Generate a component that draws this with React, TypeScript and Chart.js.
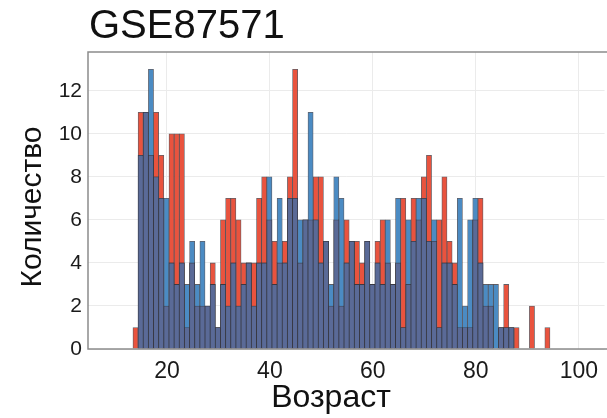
import React, { useEffect, useRef } from "react";
import { Chart, registerables } from "chart.js";

Chart.register(...registerables);

// Histogram bins: one-year bins whose left edges sit at age + binOffset
const ageBins = [
  13, 14, 15, 16, 17, 18, 19, 20, 21, 22, 23, 24, 25, 26, 27, 28, 29, 30, 31, 32,
  33, 34, 35, 36, 37, 38, 39, 40, 41, 42, 43, 44, 45, 46, 47, 48, 49, 50, 51, 52,
  53, 54, 55, 56, 57, 58, 59, 60, 61, 62, 63, 64, 65, 66, 67, 68, 69, 70, 71, 72,
  73, 74, 75, 76, 77, 78, 79, 80, 81, 82, 83, 84, 85, 86, 87, 88, 89, 90, 91, 92, 93,
];
const binOffset = 0.4;
const binWidth = 1;

// Counts per bin, first group (red)
const countsRed = [
  1, 11, 11, 9, 11, 9, 2, 10, 10, 10, 1, 4, 2, 2, 2, 4, 1, 6, 7, 7,
  6, 4, 4, 4, 7, 8, 6, 5, 4, 5, 8, 13, 4, 6, 6, 8, 8, 5, 2, 6,
  2, 6, 5, 5, 4, 5, 3, 5, 6, 4, 3, 4, 7, 3, 7, 6, 8, 9, 5, 6,
  8, 5, 4, 1, 1, 1, 6, 7, 2, 2, 0, 1, 3, 1, 1, 0, 0, 2, 0, 0, 1,
];

// Counts per bin, second group (blue)
const countsBlue = [
  0, 9, 11, 13, 8, 7, 7, 4, 3, 4, 3, 5, 3, 5, 2, 3, 1, 3, 2, 4,
  2, 3, 4, 2, 4, 4, 8, 3, 7, 4, 7, 7, 6, 6, 11, 6, 4, 5, 3, 8,
  7, 4, 5, 3, 3, 5, 3, 4, 3, 6, 3, 7, 1, 6, 5, 7, 7, 5, 6, 1,
  4, 4, 3, 7, 2, 6, 7, 4, 3, 3, 3, 1, 1, 1, 0, 0, 0, 0, 0, 0, 0,
];

const xTickValues = [20, 40, 60, 80, 100];
const yTickValues = [0, 2, 4, 6, 8, 10, 12];
const xRange = [4.67, 105.0];
const yRange = [0, 13.8];

const titleText = "GSE87571";
const xTitleText = "Возраст";
const yTitleText = "Количество";

const FONT = "'Liberation Sans', Arial, Helvetica, sans-serif";
const RED = "#e9533e";
const BLUE = "#4b8bc3";
const OVERLAP = "#5a6a97";
const EDGE = "rgba(55,55,65,0.8)";

const toPoints = (counts: number[]) =>
  ageBins.map((a, i) => ({
    x: a + binOffset + binWidth / 2,
    y: counts[i] > 0 ? counts[i] : null,
  }));

const overlapCounts = countsRed.map((r, i) => Math.min(r, countsBlue[i]));

const decorations = {
  id: "decorations",
  afterDatasetsDraw(chart: any) {
    const { ctx, chartArea: a, width } = chart;
    ctx.save();
    ctx.strokeStyle = "#8c8c8c";
    ctx.lineWidth = 1.5;
    ctx.beginPath();
    ctx.moveTo(width, a.top);
    ctx.lineTo(a.left, a.top);
    ctx.lineTo(a.left, a.bottom);
    ctx.lineTo(width, a.bottom);
    ctx.stroke();
    ctx.restore();
  },
  afterDraw(chart: any) {
    const { ctx, chartArea: a } = chart;
    ctx.save();
    ctx.fillStyle = "#111";
    // chart title
    ctx.font = `40px ${FONT}`;
    ctx.textAlign = "left";
    ctx.textBaseline = "alphabetic";
    ctx.fillText(titleText, a.left + 1, 38);
    // x axis title
    ctx.font = `32px ${FONT}`;
    ctx.textAlign = "center";
    ctx.textBaseline = "middle";
    ctx.fillText(xTitleText, a.left + 243, 398);
    // y axis title
    ctx.translate(33, 207);
    ctx.rotate(-Math.PI / 2);
    ctx.font = `30px ${FONT}`;
    ctx.fillText(yTitleText, 0, 0);
    ctx.restore();
  },
};

export default function App() {
  const canvasRef = useRef<HTMLCanvasElement | null>(null);

  useEffect(() => {
    const canvas = canvasRef.current;
    if (!canvas) return;
    const barCommon = {
      grouped: false,
      barPercentage: 1,
      categoryPercentage: 1,
      borderWidth: 0.8,
      borderColor: EDGE,
      borderSkipped: "start",
    };
    const chart = new Chart(canvas, {
      type: "bar",
      data: {
        datasets: [
          { ...barCommon, label: "overlap", data: toPoints(overlapCounts), backgroundColor: OVERLAP, order: 0 },
          { ...barCommon, label: "blue", data: toPoints(countsBlue), backgroundColor: BLUE, order: 1 },
          { ...barCommon, label: "red", data: toPoints(countsRed), backgroundColor: RED, order: 2 },
        ] as any,
      },
      options: {
        responsive: false,
        animation: false,
        layout: { padding: { top: 52, left: 0, right: 0, bottom: 0 } },
        plugins: {
          legend: { display: false },
          tooltip: { enabled: false },
          title: { display: false },
        },
        scales: {
          x: {
            type: "linear",
            min: xRange[0],
            max: xRange[1],
            offset: false,
            grid: { color: "#ebebeb", lineWidth: 1, drawTicks: false, offset: false },
            border: { display: false },
            ticks: {
              padding: 9,
              color: "#1a1a1a",
              font: { size: 23, family: FONT },
              maxRotation: 0,
            },
            afterBuildTicks: (scale: any) => {
              scale.ticks = xTickValues.map((v) => ({ value: v }));
            },
            afterFit: (scale: any) => {
              scale.height = 69;
            },
          },
          y: {
            type: "linear",
            min: yRange[0],
            max: yRange[1],
            grid: { color: "#ebebeb", lineWidth: 1, drawTicks: false },
            border: { display: false },
            ticks: {
              padding: 6,
              color: "#1a1a1a",
              font: { size: 21, family: FONT },
            },
            afterBuildTicks: (scale: any) => {
              scale.ticks = yTickValues.map((v) => ({ value: v }));
            },
            afterFit: (scale: any) => {
              scale.width = 88;
            },
          },
        },
      } as any,
      plugins: [decorations],
    });
    return () => chart.destroy();
  }, []);

  return (
    <div style={{ position: "absolute", left: 0, top: 0, width: 607, height: 418, background: "#fff" }}>
      <canvas ref={canvasRef} width={607} height={418} style={{ display: "block" }} />
    </div>
  );
}
